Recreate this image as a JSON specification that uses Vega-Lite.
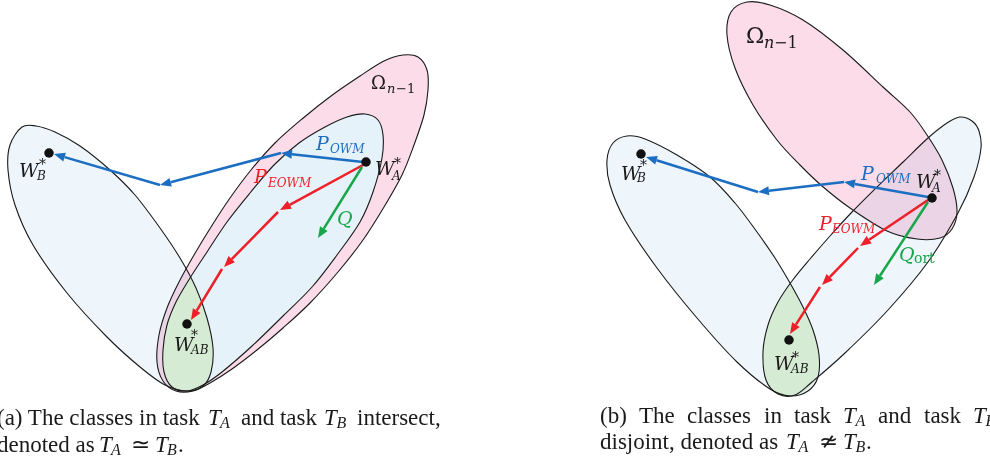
{
"$schema":"https://vega.github.io/schema/vega-lite/v6.json",
"width":990,"height":464,"autosize":{"type":"none"},"padding":0,"background":"white",
"config":{"view":{"stroke":null}},
"datasets":{
"shapes":[
{"s":"pinkA","i":0,"x":403,"y":55},{"s":"pinkA","i":1,"x":418,"y":57},{"s":"pinkA","i":2,"x":427,"y":70},{"s":"pinkA","i":3,"x":428,"y":90},{"s":"pinkA","i":4,"x":424,"y":115},{"s":"pinkA","i":5,"x":414,"y":145},{"s":"pinkA","i":6,"x":402,"y":175},{"s":"pinkA","i":7,"x":384,"y":207},{"s":"pinkA","i":8,"x":363,"y":240},{"s":"pinkA","i":9,"x":338,"y":272},{"s":"pinkA","i":10,"x":310,"y":303},{"s":"pinkA","i":11,"x":283,"y":328},{"s":"pinkA","i":12,"x":257,"y":350},{"s":"pinkA","i":13,"x":232,"y":369},{"s":"pinkA","i":14,"x":210,"y":383},{"s":"pinkA","i":15,"x":193,"y":391},{"s":"pinkA","i":16,"x":176,"y":391},{"s":"pinkA","i":17,"x":163,"y":381},{"s":"pinkA","i":18,"x":157,"y":362},{"s":"pinkA","i":19,"x":159,"y":335},{"s":"pinkA","i":20,"x":167,"y":308},{"s":"pinkA","i":21,"x":179,"y":282},{"s":"pinkA","i":22,"x":194,"y":255},{"s":"pinkA","i":23,"x":211,"y":227},{"s":"pinkA","i":24,"x":230,"y":198},{"s":"pinkA","i":25,"x":251,"y":170},{"s":"pinkA","i":26,"x":275,"y":143},{"s":"pinkA","i":27,"x":302,"y":119},{"s":"pinkA","i":28,"x":331,"y":96},{"s":"pinkA","i":29,"x":360,"y":76},{"s":"pinkA","i":30,"x":384,"y":61},
{"s":"innerA","i":0,"x":365,"y":114},{"s":"innerA","i":1,"x":378,"y":120},{"s":"innerA","i":2,"x":383,"y":135},{"s":"innerA","i":3,"x":382,"y":158},{"s":"innerA","i":4,"x":373,"y":192},{"s":"innerA","i":5,"x":360,"y":222},{"s":"innerA","i":6,"x":337,"y":255},{"s":"innerA","i":7,"x":312,"y":287},{"s":"innerA","i":8,"x":283,"y":316},{"s":"innerA","i":9,"x":252,"y":346},{"s":"innerA","i":10,"x":222,"y":372},{"s":"innerA","i":11,"x":203,"y":385},{"s":"innerA","i":12,"x":187,"y":391},{"s":"innerA","i":13,"x":172,"y":387},{"s":"innerA","i":14,"x":164,"y":372},{"s":"innerA","i":15,"x":163,"y":350},{"s":"innerA","i":16,"x":167,"y":325},{"s":"innerA","i":17,"x":176,"y":302},{"s":"innerA","i":18,"x":190,"y":278},{"s":"innerA","i":19,"x":207,"y":252},{"s":"innerA","i":20,"x":227,"y":222},{"s":"innerA","i":21,"x":250,"y":193},{"s":"innerA","i":22,"x":274,"y":165},{"s":"innerA","i":23,"x":299,"y":143},{"s":"innerA","i":24,"x":325,"y":127},{"s":"innerA","i":25,"x":347,"y":117},
{"s":"leftA","i":0,"x":22,"y":127},{"s":"leftA","i":1,"x":36,"y":126},{"s":"leftA","i":2,"x":55,"y":132},{"s":"leftA","i":3,"x":80,"y":146},{"s":"leftA","i":4,"x":110,"y":170},{"s":"leftA","i":5,"x":135,"y":195},{"s":"leftA","i":6,"x":160,"y":228},{"s":"leftA","i":7,"x":180,"y":258},{"s":"leftA","i":8,"x":196,"y":288},{"s":"leftA","i":9,"x":207,"y":318},{"s":"leftA","i":10,"x":213,"y":348},{"s":"leftA","i":11,"x":211,"y":372},{"s":"leftA","i":12,"x":203,"y":386},{"s":"leftA","i":13,"x":187,"y":391},{"s":"leftA","i":14,"x":165,"y":385},{"s":"leftA","i":15,"x":140,"y":367},{"s":"leftA","i":16,"x":107,"y":337},{"s":"leftA","i":17,"x":67,"y":293},{"s":"leftA","i":18,"x":33,"y":245},{"s":"leftA","i":19,"x":15,"y":205},{"s":"leftA","i":20,"x":8,"y":170},{"s":"leftA","i":21,"x":10,"y":145},
{"s":"lensA","i":0,"x":190,"y":277},{"s":"lensA","i":1,"x":196,"y":288},{"s":"lensA","i":2,"x":202,"y":303},{"s":"lensA","i":3,"x":207,"y":318},{"s":"lensA","i":4,"x":211,"y":333},{"s":"lensA","i":5,"x":213,"y":348},{"s":"lensA","i":6,"x":212,"y":362},{"s":"lensA","i":7,"x":209,"y":375},{"s":"lensA","i":8,"x":201,"y":387},{"s":"lensA","i":9,"x":187,"y":391},{"s":"lensA","i":10,"x":173,"y":387},{"s":"lensA","i":11,"x":165,"y":373},{"s":"lensA","i":12,"x":163,"y":350},{"s":"lensA","i":13,"x":165,"y":337},{"s":"lensA","i":14,"x":167,"y":325},{"s":"lensA","i":15,"x":171,"y":313},{"s":"lensA","i":16,"x":176,"y":302},{"s":"lensA","i":17,"x":183,"y":289},
{"s":"pinkB","i":0,"x":747,"y":2},{"s":"pinkB","i":1,"x":770,"y":5},{"s":"pinkB","i":2,"x":803,"y":20},{"s":"pinkB","i":3,"x":843,"y":50},{"s":"pinkB","i":4,"x":883,"y":87},{"s":"pinkB","i":5,"x":910,"y":112},{"s":"pinkB","i":6,"x":927,"y":135},{"s":"pinkB","i":7,"x":942,"y":160},{"s":"pinkB","i":8,"x":953,"y":188},{"s":"pinkB","i":9,"x":957,"y":212},{"s":"pinkB","i":10,"x":952,"y":229},{"s":"pinkB","i":11,"x":940,"y":238},{"s":"pinkB","i":12,"x":917,"y":239},{"s":"pinkB","i":13,"x":887,"y":231},{"s":"pinkB","i":14,"x":850,"y":208},{"s":"pinkB","i":15,"x":822,"y":186},{"s":"pinkB","i":16,"x":800,"y":165},{"s":"pinkB","i":17,"x":777,"y":140},{"s":"pinkB","i":18,"x":753,"y":105},{"s":"pinkB","i":19,"x":735,"y":68},{"s":"pinkB","i":20,"x":727,"y":35},{"s":"pinkB","i":21,"x":731,"y":12},
{"s":"leftB","i":0,"x":627,"y":136},{"s":"leftB","i":1,"x":645,"y":139},{"s":"leftB","i":2,"x":677,"y":155},{"s":"leftB","i":3,"x":710,"y":177},{"s":"leftB","i":4,"x":735,"y":203},{"s":"leftB","i":5,"x":757,"y":232},{"s":"leftB","i":6,"x":775,"y":258},{"s":"leftB","i":7,"x":790,"y":283},{"s":"leftB","i":8,"x":803,"y":307},{"s":"leftB","i":9,"x":813,"y":330},{"s":"leftB","i":10,"x":819,"y":355},{"s":"leftB","i":11,"x":818,"y":377},{"s":"leftB","i":12,"x":808,"y":391},{"s":"leftB","i":13,"x":790,"y":396},{"s":"leftB","i":14,"x":770,"y":389},{"s":"leftB","i":15,"x":737,"y":362},{"s":"leftB","i":16,"x":697,"y":318},{"s":"leftB","i":17,"x":657,"y":268},{"s":"leftB","i":18,"x":625,"y":220},{"s":"leftB","i":19,"x":610,"y":185},{"s":"leftB","i":20,"x":607,"y":160},{"s":"leftB","i":21,"x":613,"y":143},
{"s":"rightB","i":0,"x":960,"y":117},{"s":"rightB","i":1,"x":972,"y":121},{"s":"rightB","i":2,"x":979,"y":131},{"s":"rightB","i":3,"x":981,"y":148},{"s":"rightB","i":4,"x":974,"y":177},{"s":"rightB","i":5,"x":958,"y":213},{"s":"rightB","i":6,"x":928,"y":262},{"s":"rightB","i":7,"x":888,"y":310},{"s":"rightB","i":8,"x":845,"y":353},{"s":"rightB","i":9,"x":812,"y":382},{"s":"rightB","i":10,"x":795,"y":395},{"s":"rightB","i":11,"x":778,"y":394},{"s":"rightB","i":12,"x":766,"y":380},{"s":"rightB","i":13,"x":763,"y":352},{"s":"rightB","i":14,"x":768,"y":325},{"s":"rightB","i":15,"x":778,"y":302},{"s":"rightB","i":16,"x":792,"y":281},{"s":"rightB","i":17,"x":810,"y":259},{"s":"rightB","i":18,"x":830,"y":236},{"s":"rightB","i":19,"x":852,"y":212},{"s":"rightB","i":20,"x":876,"y":188},{"s":"rightB","i":21,"x":902,"y":163},{"s":"rightB","i":22,"x":928,"y":138},{"s":"rightB","i":23,"x":947,"y":123},
{"s":"lensB","i":0,"x":790,"y":284},{"s":"lensB","i":1,"x":797,"y":296},{"s":"lensB","i":2,"x":803,"y":307},{"s":"lensB","i":3,"x":808,"y":318},{"s":"lensB","i":4,"x":813,"y":330},{"s":"lensB","i":5,"x":817,"y":343},{"s":"lensB","i":6,"x":819,"y":355},{"s":"lensB","i":7,"x":818,"y":372},{"s":"lensB","i":8,"x":810,"y":387},{"s":"lensB","i":9,"x":795,"y":395},{"s":"lensB","i":10,"x":778,"y":394},{"s":"lensB","i":11,"x":766,"y":380},{"s":"lensB","i":12,"x":763,"y":352},{"s":"lensB","i":13,"x":768,"y":325},{"s":"lensB","i":14,"x":772,"y":315},{"s":"lensB","i":15,"x":778,"y":302},{"s":"lensB","i":16,"x":784,"y":292}
],
"heads":[
{"h":"aB1","c":"OWM","i":0,"x":281,"y":153},{"h":"aB1","c":"OWM","i":1,"x":292.4,"y":149.7},{"h":"aB1","c":"OWM","i":2,"x":291.4,"y":158.7},
{"h":"aB2","c":"OWM","i":0,"x":160,"y":185},{"h":"aB2","c":"OWM","i":1,"x":169.5,"y":177.9},{"h":"aB2","c":"OWM","i":2,"x":171.8,"y":186.5},
{"h":"aB3","c":"OWM","i":0,"x":54,"y":154},{"h":"aB3","c":"OWM","i":1,"x":65.9,"y":152.8},{"h":"aB3","c":"OWM","i":2,"x":63.3,"y":161.4},
{"h":"aR1","c":"EOWM","i":0,"x":280,"y":210},{"h":"aR1","c":"EOWM","i":1,"x":287.5,"y":200.8},{"h":"aR1","c":"EOWM","i":2,"x":291.8,"y":208.8},
{"h":"aR2","c":"EOWM","i":0,"x":224,"y":267},{"h":"aR2","c":"EOWM","i":1,"x":228.5,"y":256},{"h":"aR2","c":"EOWM","i":2,"x":234.9,"y":262.3},
{"h":"aR3","c":"EOWM","i":0,"x":191,"y":320},{"h":"aR3","c":"EOWM","i":1,"x":192.9,"y":308.3},{"h":"aR3","c":"EOWM","i":2,"x":200.5,"y":312.9},
{"h":"aG1","c":"Q","i":0,"x":318,"y":238},{"h":"aG1","c":"Q","i":1,"x":320,"y":226.2},{"h":"aG1","c":"Q","i":2,"x":327.6,"y":231},
{"h":"bB1","c":"OWM","i":0,"x":844,"y":182},{"h":"bB1","c":"OWM","i":1,"x":855.6,"y":179.5},{"h":"bB1","c":"OWM","i":2,"x":854,"y":188.3},
{"h":"bB2","c":"OWM","i":0,"x":758,"y":192},{"h":"bB2","c":"OWM","i":1,"x":768.4,"y":186.2},{"h":"bB2","c":"OWM","i":2,"x":769.4,"y":195.2},
{"h":"bB3","c":"OWM","i":0,"x":646,"y":157},{"h":"bB3","c":"OWM","i":1,"x":657.8,"y":156},{"h":"bB3","c":"OWM","i":2,"x":655.2,"y":164.6},
{"h":"bR1","c":"EOWM","i":0,"x":860,"y":246},{"h":"bR1","c":"EOWM","i":1,"x":866.6,"y":236.1},{"h":"bR1","c":"EOWM","i":2,"x":871.6,"y":243.5},
{"h":"bR2","c":"EOWM","i":0,"x":822,"y":285},{"h":"bR2","c":"EOWM","i":1,"x":826.5,"y":274},{"h":"bR2","c":"EOWM","i":2,"x":832.9,"y":280.2},
{"h":"bR3","c":"EOWM","i":0,"x":790,"y":334},{"h":"bR3","c":"EOWM","i":1,"x":792.1,"y":322.3},{"h":"bR3","c":"EOWM","i":2,"x":799.7,"y":327.1},
{"h":"bG1","c":"Q","i":0,"x":874,"y":285},{"h":"bG1","c":"Q","i":1,"x":876.2,"y":273.3},{"h":"bG1","c":"Q","i":2,"x":883.8,"y":278.3}
],
"segs":[
{"c":"OWM","x":363,"y":162,"x2":291.9,"y2":154.2},{"c":"OWM","x":281,"y":153,"x2":170.6,"y2":182.2},{"c":"OWM","x":160,"y":185,"x2":64.6,"y2":157.1},
{"c":"EOWM","x":363,"y":165,"x2":289.7,"y2":204.8},{"c":"EOWM","x":278,"y":212,"x2":231.7,"y2":259.2},{"c":"EOWM","x":222,"y":269,"x2":196.7,"y2":310.6},
{"c":"Q","x":362,"y":167,"x2":323.8,"y2":228.6},
{"c":"OWM","x":928,"y":197,"x2":854.8,"y2":183.9},{"c":"OWM","x":844,"y":182,"x2":768.9,"y2":190.7},{"c":"OWM","x":758,"y":192,"x2":656.5,"y2":160.3},
{"c":"EOWM","x":928,"y":200,"x2":869.1,"y2":239.8},{"c":"EOWM","x":858,"y":248,"x2":829.7,"y2":277.1},{"c":"EOWM","x":820,"y":287,"x2":795.9,"y2":324.7},
{"c":"Q","x":928,"y":202,"x2":880,"y2":275.8}
],
"dots":[{"n":"WA","x":366,"y":162},{"n":"WB","x":49,"y":153},{"n":"WAB","x":187,"y":324},{"n":"WA","x":932,"y":198},{"n":"WB","x":641,"y":154},{"n":"WAB","x":789,"y":340}],
"labels":[
{"t":"W","k":"mi","c":"none","x":375,"y":175},{"t":"*","k":"star","c":"none","x":394,"y":168},{"t":"A","k":"msub","c":"none","x":392,"y":180},
{"t":"P","k":"mi","c":"OWM","x":316,"y":150},{"t":"OWM","k":"msub","c":"OWM","x":330,"y":153},
{"t":"P","k":"mi","c":"EOWM","x":254,"y":183},{"t":"EOWM","k":"msub","c":"EOWM","x":268,"y":187},
{"t":"Q","k":"mi","c":"Q","x":337,"y":225},
{"t":"Ω","k":"omA","c":"none","x":371,"y":89},{"t":"n","k":"nA","c":"none","x":387,"y":93},{"t":"−1","k":"m1A","c":"none","x":396,"y":93},
{"t":"W","k":"mi","c":"none","x":19,"y":177},{"t":"*","k":"star","c":"none","x":39,"y":169},{"t":"B","k":"msub","c":"none","x":37,"y":180},
{"t":"W","k":"mi","c":"none","x":174,"y":351},{"t":"*","k":"star","c":"none","x":191,"y":340},{"t":"AB","k":"msub","c":"none","x":191,"y":354},
{"t":"Ω","k":"omB","c":"none","x":746,"y":43},{"t":"n","k":"nB","c":"none","x":764,"y":48},{"t":"−1","k":"m1B","c":"none","x":774,"y":48},
{"t":"P","k":"mi","c":"OWM","x":861,"y":180},{"t":"OWM","k":"msub","c":"OWM","x":876,"y":183},
{"t":"W","k":"mi","c":"none","x":916,"y":188},{"t":"*","k":"star","c":"none","x":934,"y":180},{"t":"A","k":"msub","c":"none","x":932,"y":192},
{"t":"P","k":"mi","c":"EOWM","x":819,"y":230},{"t":"EOWM","k":"msub","c":"EOWM","x":832,"y":233},
{"t":"Q","k":"mi","c":"Q","x":899,"y":261},{"t":"ort","k":"ort","c":"Q","x":914,"y":263},
{"t":"W","k":"mi","c":"none","x":621,"y":180},{"t":"*","k":"star","c":"none","x":640,"y":170},{"t":"B","k":"msub","c":"none","x":637,"y":182},
{"t":"W","k":"mi","c":"none","x":774,"y":370},{"t":"*","k":"star","c":"none","x":792,"y":362},{"t":"AB","k":"msub","c":"none","x":791,"y":373},
{"t":"(a) The classes in task","k":"cap","c":"none","x":-3,"y":425},{"t":"T","k":"capi","c":"none","x":208,"y":425},{"t":"A","k":"capsub","c":"none","x":220,"y":428},{"t":"and task","k":"cap","c":"none","x":241,"y":425},{"t":"T","k":"capi","c":"none","x":324,"y":425},{"t":"B","k":"capsub","c":"none","x":336.5,"y":428},{"t":"intersect,","k":"cap","c":"none","x":357,"y":425},
{"t":"denoted as","k":"cap","c":"none","x":-3,"y":452},{"t":"T","k":"capi","c":"none","x":99,"y":452},{"t":"A","k":"capsub","c":"none","x":111,"y":455},{"t":"≃","k":"cap","c":"none","x":131,"y":452},{"t":"T","k":"capi","c":"none","x":155,"y":452},{"t":"B","k":"capsub","c":"none","x":167,"y":455},{"t":".","k":"cap","c":"none","x":178,"y":452},
{"t":"(b)","k":"cap","c":"none","x":600,"y":423},{"t":"The","k":"cap","c":"none","x":639,"y":423},{"t":"classes","k":"cap","c":"none","x":687,"y":423},{"t":"in","k":"cap","c":"none","x":764,"y":423},{"t":"task","k":"cap","c":"none","x":794,"y":423},{"t":"T","k":"capi","c":"none","x":843,"y":423},{"t":"A","k":"capsub","c":"none","x":855.5,"y":426},{"t":"and","k":"cap","c":"none","x":878,"y":423},{"t":"task","k":"cap","c":"none","x":924,"y":423},{"t":"T","k":"capi","c":"none","x":973,"y":423},{"t":"B","k":"capsub","c":"none","x":985.5,"y":426},
{"t":"disjoint, denoted as","k":"cap","c":"none","x":600,"y":449},{"t":"T","k":"capi","c":"none","x":786,"y":449},{"t":"A","k":"capsub","c":"none","x":798.5,"y":452},{"t":"≄","k":"cap","c":"none","x":819,"y":449},{"t":"T","k":"capi","c":"none","x":843,"y":449},{"t":"B","k":"capsub","c":"none","x":855.5,"y":452},{"t":".","k":"cap","c":"none","x":866,"y":449}
]
},
"layer":[
{"data":{"name":"shapes"},"transform":[{"filter":{"field":"s","oneOf":["pinkA","pinkB","leftB"]}}],
 "mark":{"type":"line","interpolate":"cardinal-closed","strokeWidth":0},
 "encoding":{"x":{"field":"x","type":"quantitative","scale":{"domain":[0,990],"nice":false,"zero":false},"axis":null},"y":{"field":"y","type":"quantitative","scale":{"domain":[0,464],"nice":false,"zero":false,"reverse":true},"axis":null},"order":{"field":"i","type":"quantitative"},"detail":{"field":"s"},
 "fill":{"field":"s","type":"nominal","scale":{"type":"ordinal","domain":["pinkA","innerA","leftA","lensA","pinkB","leftB","rightB","lensB"],"range":["#fbdce8","#e6f2fa","#eef6fc","#d6ebd3","#fbdce8","#eef6fc","#eef6fc","#d6ebd3"]},"legend":null}}},
{"data":{"name":"shapes"},"transform":[{"filter":{"field":"s","oneOf":["leftA","rightB"]}}],
 "mark":{"type":"line","interpolate":"cardinal-closed","strokeWidth":0,"blend":"multiply"},
 "encoding":{"x":{"field":"x","type":"quantitative","scale":{"domain":[0,990],"nice":false,"zero":false},"axis":null},"y":{"field":"y","type":"quantitative","scale":{"domain":[0,464],"nice":false,"zero":false,"reverse":true},"axis":null},"order":{"field":"i","type":"quantitative"},"detail":{"field":"s"},
 "fill":{"field":"s","type":"nominal","scale":{"type":"ordinal","domain":["pinkA","innerA","leftA","lensA","pinkB","leftB","rightB","lensB"],"range":["#fbdce8","#e6f2fa","#eef6fc","#d6ebd3","#fbdce8","#eef6fc","#eef6fc","#d6ebd3"]},"legend":null}}},
{"data":{"name":"shapes"},"transform":[{"filter":{"field":"s","oneOf":["innerA"]}}],
 "mark":{"type":"line","interpolate":"cardinal-closed","strokeWidth":0},
 "encoding":{"x":{"field":"x","type":"quantitative","scale":{"domain":[0,990],"nice":false,"zero":false},"axis":null},"y":{"field":"y","type":"quantitative","scale":{"domain":[0,464],"nice":false,"zero":false,"reverse":true},"axis":null},"order":{"field":"i","type":"quantitative"},"detail":{"field":"s"},
 "fill":{"field":"s","type":"nominal","scale":{"type":"ordinal","domain":["pinkA","innerA","leftA","lensA","pinkB","leftB","rightB","lensB"],"range":["#fbdce8","#e6f2fa","#eef6fc","#d6ebd3","#fbdce8","#eef6fc","#eef6fc","#d6ebd3"]},"legend":null}}},
{"data":{"name":"shapes"},"transform":[{"filter":{"field":"s","oneOf":["lensA","lensB"]}}],
 "mark":{"type":"line","interpolate":"cardinal-closed","strokeWidth":0},
 "encoding":{"x":{"field":"x","type":"quantitative","scale":{"domain":[0,990],"nice":false,"zero":false},"axis":null},"y":{"field":"y","type":"quantitative","scale":{"domain":[0,464],"nice":false,"zero":false,"reverse":true},"axis":null},"order":{"field":"i","type":"quantitative"},"detail":{"field":"s"},
 "fill":{"field":"s","type":"nominal","scale":{"type":"ordinal","domain":["pinkA","innerA","leftA","lensA","pinkB","leftB","rightB","lensB"],"range":["#fbdce8","#e6f2fa","#eef6fc","#d6ebd3","#fbdce8","#eef6fc","#eef6fc","#d6ebd3"]},"legend":null}}},
{"data":{"name":"shapes"},"transform":[{"filter":{"field":"s","oneOf":["pinkA","innerA","leftA","pinkB","leftB","rightB"]}}],
 "mark":{"type":"line","interpolate":"cardinal-closed","strokeWidth":1.1,"stroke":"#1a1a1a"},
 "encoding":{"x":{"field":"x","type":"quantitative","scale":{"domain":[0,990],"nice":false,"zero":false},"axis":null},"y":{"field":"y","type":"quantitative","scale":{"domain":[0,464],"nice":false,"zero":false,"reverse":true},"axis":null},"order":{"field":"i","type":"quantitative"},"detail":{"field":"s"}}},
{"data":{"name":"segs"},
 "mark":{"type":"rule","strokeWidth":2.5},
 "encoding":{"x":{"field":"x","type":"quantitative","scale":{"domain":[0,990],"nice":false,"zero":false},"axis":null},"y":{"field":"y","type":"quantitative","scale":{"domain":[0,464],"nice":false,"zero":false,"reverse":true},"axis":null},"x2":{"field":"x2"},"y2":{"field":"y2"},
 "color":{"field":"c","type":"nominal","scale":{"type":"ordinal","domain":["OWM","EOWM","Q","none"],"range":["#1b6ec2","#ee1f28","#19a64a","#1a1a1a"]},"legend":null}}},
{"data":{"name":"heads"},
 "mark":{"type":"line","interpolate":"linear-closed","filled":true,"strokeWidth":0},
 "encoding":{"x":{"field":"x","type":"quantitative","scale":{"domain":[0,990],"nice":false,"zero":false},"axis":null},"y":{"field":"y","type":"quantitative","scale":{"domain":[0,464],"nice":false,"zero":false,"reverse":true},"axis":null},"order":{"field":"i","type":"quantitative"},"detail":{"field":"h"},
 "color":{"field":"c","type":"nominal","scale":{"type":"ordinal","domain":["OWM","EOWM","Q","none"],"range":["#1b6ec2","#ee1f28","#19a64a","#1a1a1a"]},"legend":null}}},
{"data":{"name":"dots"},
 "mark":{"type":"point","filled":true,"size":90,"opacity":1,"color":"#111111"},
 "encoding":{"x":{"field":"x","type":"quantitative","scale":{"domain":[0,990],"nice":false,"zero":false},"axis":null},"y":{"field":"y","type":"quantitative","scale":{"domain":[0,464],"nice":false,"zero":false,"reverse":true},"axis":null}}},
{"data":{"name":"labels"},"transform":[{"filter":{"field":"k","oneOf":["cap"]}}],
 "mark":{"type":"text","font":"Liberation Serif","align":"left","baseline":"alphabetic"},
 "encoding":{"x":{"field":"x","type":"quantitative","scale":{"domain":[0,990],"nice":false,"zero":false},"axis":null},"y":{"field":"y","type":"quantitative","scale":{"domain":[0,464],"nice":false,"zero":false,"reverse":true},"axis":null},"text":{"field":"t"},
 "size":{"field":"k","type":"nominal","scale":{"type":"ordinal","domain":["cap","capi","capsub","mi","msub","nA","nB","omA","omB","m1A","m1B","star","ort"],"range":[23,23,16,19,12,13,16,18,22,13,16,14,14]},"legend":null},
 "color":{"field":"c","type":"nominal","scale":{"type":"ordinal","domain":["OWM","EOWM","Q","none"],"range":["#1b6ec2","#ee1f28","#19a64a","#1a1a1a"]},"legend":null}}},
{"data":{"name":"labels"},"transform":[{"filter":{"field":"k","oneOf":["capi","capsub"]}}],
 "mark":{"type":"text","font":"Liberation Serif","fontStyle":"italic","align":"left","baseline":"alphabetic"},
 "encoding":{"x":{"field":"x","type":"quantitative","scale":{"domain":[0,990],"nice":false,"zero":false},"axis":null},"y":{"field":"y","type":"quantitative","scale":{"domain":[0,464],"nice":false,"zero":false,"reverse":true},"axis":null},"text":{"field":"t"},
 "size":{"field":"k","type":"nominal","scale":{"type":"ordinal","domain":["cap","capi","capsub","mi","msub","nA","nB","omA","omB","m1A","m1B","star","ort"],"range":[23,23,16,19,12,13,16,18,22,13,16,14,14]},"legend":null},
 "color":{"field":"c","type":"nominal","scale":{"type":"ordinal","domain":["OWM","EOWM","Q","none"],"range":["#1b6ec2","#ee1f28","#19a64a","#1a1a1a"]},"legend":null}}},
{"data":{"name":"labels"},"transform":[{"filter":{"field":"k","oneOf":["mi","msub","nA","nB"]}}],
 "mark":{"type":"text","font":"DejaVu Serif","fontStyle":"italic","align":"left","baseline":"alphabetic"},
 "encoding":{"x":{"field":"x","type":"quantitative","scale":{"domain":[0,990],"nice":false,"zero":false},"axis":null},"y":{"field":"y","type":"quantitative","scale":{"domain":[0,464],"nice":false,"zero":false,"reverse":true},"axis":null},"text":{"field":"t"},
 "size":{"field":"k","type":"nominal","scale":{"type":"ordinal","domain":["cap","capi","capsub","mi","msub","nA","nB","omA","omB","m1A","m1B","star","ort"],"range":[23,23,16,19,12,13,16,18,22,13,16,14,14]},"legend":null},
 "color":{"field":"c","type":"nominal","scale":{"type":"ordinal","domain":["OWM","EOWM","Q","none"],"range":["#1b6ec2","#ee1f28","#19a64a","#1a1a1a"]},"legend":null}}},
{"data":{"name":"labels"},"transform":[{"filter":{"field":"k","oneOf":["omA","omB","m1A","m1B","star","ort"]}}],
 "mark":{"type":"text","font":"DejaVu Serif","align":"left","baseline":"alphabetic"},
 "encoding":{"x":{"field":"x","type":"quantitative","scale":{"domain":[0,990],"nice":false,"zero":false},"axis":null},"y":{"field":"y","type":"quantitative","scale":{"domain":[0,464],"nice":false,"zero":false,"reverse":true},"axis":null},"text":{"field":"t"},
 "size":{"field":"k","type":"nominal","scale":{"type":"ordinal","domain":["cap","capi","capsub","mi","msub","nA","nB","omA","omB","m1A","m1B","star","ort"],"range":[23,23,16,19,12,13,16,18,22,13,16,14,14]},"legend":null},
 "color":{"field":"c","type":"nominal","scale":{"type":"ordinal","domain":["OWM","EOWM","Q","none"],"range":["#1b6ec2","#ee1f28","#19a64a","#1a1a1a"]},"legend":null}}}
]
}
